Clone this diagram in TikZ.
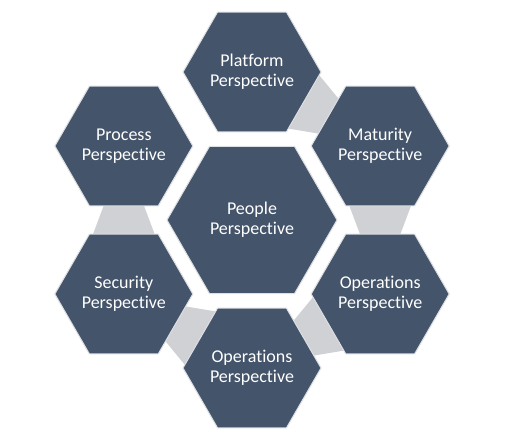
\documentclass[tikz,border=0pt]{standalone}
\usepackage{fontspec}
\setmainfont{Carlito}[Ligatures=NoCommon]
\usetikzlibrary{calc,shapes.geometric}
\definecolor{hexblue}{HTML}{44546A}
\definecolor{hexline}{RGB}{222,224,228}
\definecolor{linkgray}{RGB}{207,209,213}

\begin{document}
\begin{tikzpicture}[x=1pt,y=1pt,
  hexbox/.style={regular polygon,regular polygon sides=6,inner sep=0pt,
    fill=hexblue,draw=hexline,line width=1pt,text=white,align=center,
    font=\fontsize{18}{20}\selectfont},
  outerhex/.style={hexbox,minimum size=138pt},
  linkpiece/.style={fill=linkgray,draw=none}]
\useasboundingbox (0,0) rectangle (511,431);
\fill[white] (0,0) rectangle (511,431);
\coordinate (mid) at (252,211);
% gray links between neighbouring outer hexagons, drawn first
\foreach \a/\b/\t in {platform/maturity/90,maturity/opsright/30,opsright/opsbottom/-30,opsbottom/security/-90,security/process/-150}{
  \coordinate (\a) at ($(mid)+(\t:148)$);
  \coordinate (\b) at ($(mid)+(\t-60:148)$);
  \fill[linkpiece] ($(\a)+(\t-120:58)+(\t-30:31.5)$) -- ($(\a)+(\t-120:58)+(\t+150:31.5)$)
    -- ($(\b)+(\t+60:58)+(\t+150:19.5)$) -- ($(\b)+(\t+60:58)+(\t-30:19.5)$) -- cycle;
}
\node[hexbox,minimum size=170pt] (people) at (mid) {People\\Perspective};
\node[outerhex] (platform) at ($(people)+(90:148)$) {Platform\\Perspective};
\node[outerhex] (maturity) at ($(people)+(30:148)$) {Maturity\\Perspective};
\node[outerhex] (opsright) at ($(people)+(-30:148)$) {Operations\\Perspective};
\node[outerhex] (opsbottom) at ($(people)+(-90:148)$) {Operations\\Perspective};
\node[outerhex] (security) at ($(people)+(-150:148)$) {Security\\Perspective};
\node[outerhex] (process) at ($(people)+(150:148)$) {Process\\Perspective};
\end{tikzpicture}
\end{document}
